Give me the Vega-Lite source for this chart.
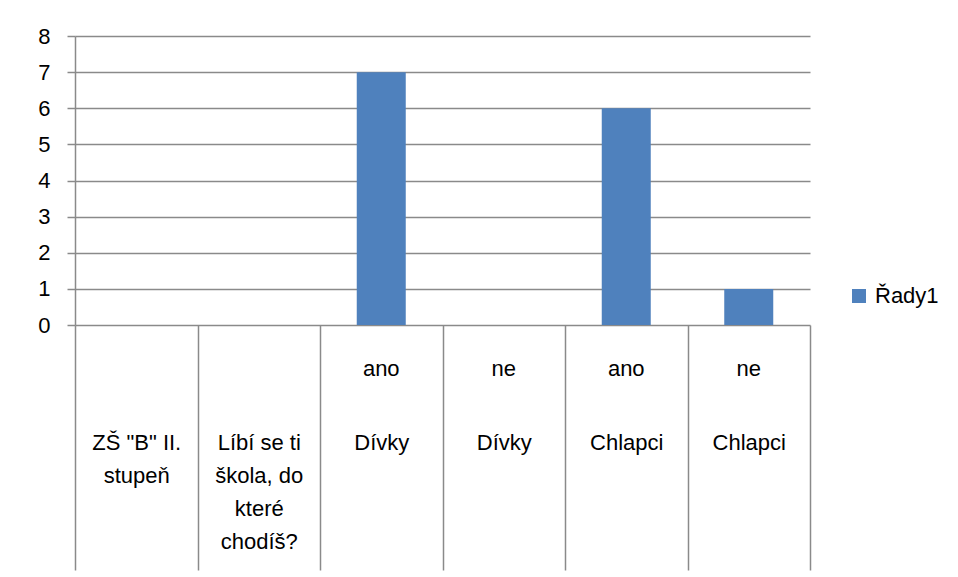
{
  "$schema": "https://vega.github.io/schema/vega-lite/v6.json",
  "width": 735,
  "height": 289,
  "autosize": {"type": "none"},
  "padding": {"left": 75, "top": 36, "right": 148, "bottom": 252},
  "background": "white",
  "config": {
    "view": {"stroke": null},
    "font": "Liberation Sans"
  },
  "data": {
    "values": [
      {"key": "|ZŠ \"B\" II.^stupeň", "series": "Řady1", "value": null},
      {"key": "|Líbí se ti^škola, do^které^chodíš?", "series": "Řady1", "value": null},
      {"key": "ano|Dívky", "series": "Řady1", "value": 7},
      {"key": "ne|Dívky", "series": "Řady1", "value": 0},
      {"key": "ano|Chlapci", "series": "Řady1", "value": 6},
      {"key": "ne|Chlapci", "series": "Řady1", "value": 1}
    ]
  },
  "resolve": {"axis": {"x": "independent"}},
  "layer": [
    {
      "mark": {"type": "text", "text": ""},
      "encoding": {
        "x": {
          "field": "key",
          "type": "nominal",
          "sort": null,
          "scale": {"paddingInner": 0, "paddingOuter": 0},
          "axis": {
            "orient": "bottom",
            "title": null,
            "domain": false,
            "ticks": false,
            "labelExpr": "split((datum.label||'')+'|','|')[0]",
            "labelBaseline": "middle",
            "labelAlign": "center",
            "labelPadding": 43,
            "labelFontSize": 22,
            "labelFont": "Liberation Sans",
            "labelColor": "#000000",
            "labelOverlap": false,
            "labelBound": false,
            "labelAngle": 0
          }
        }
      }
    },
    {
      "mark": {"type": "bar", "width": {"band": 0.4}},
      "encoding": {
        "x": {
          "field": "key",
          "type": "nominal",
          "sort": null,
          "axis": {
            "orient": "bottom",
            "title": null,
            "domain": false,
            "ticks": true,
            "tickBand": "extent",
            "tickSize": 245,
            "tickColor": "#8a8a8a",
            "tickWidth": 1.5,
            "labelExpr": "split(split((datum.label||'')+'|','|')[1],'^')",
            "labelBaseline": "top",
            "labelAlign": "center",
            "labelPadding": -138,
            "labelFontSize": 22,
            "labelFont": "Liberation Sans",
            "labelColor": "#000000",
            "labelLineHeight": 33,
            "labelOverlap": false,
            "labelBound": false,
            "labelAngle": 0,
            "labelLimit": 300
          }
        },
        "y": {
          "field": "value",
          "type": "quantitative",
          "scale": {"domain": [0, 8], "nice": false},
          "axis": {
            "title": null,
            "values": [0, 1, 2, 3, 4, 5, 6, 7, 8],
            "grid": true,
            "gridColor": "#8a8a8a",
            "gridWidth": 1.5,
            "domainColor": "#8a8a8a",
            "domainWidth": 1.5,
            "tickColor": "#8a8a8a",
            "tickWidth": 1.5,
            "tickSize": 8,
            "labelPadding": 17,
            "labelFontSize": 22,
            "labelFont": "Liberation Sans",
            "labelColor": "#000000"
          }
        },
        "color": {
          "field": "series",
          "type": "nominal",
          "scale": {"range": ["#4F81BD"]},
          "legend": {
            "title": null,
            "orient": "none",
            "legendX": 773,
            "legendY": 249,
            "symbolType": "square",
            "symbolSize": 196,
            "symbolStrokeWidth": 0,
            "labelFontSize": 22,
            "labelFont": "Liberation Sans",
            "labelColor": "#000000",
            "labelOffset": 5
          }
        }
      }
    }
  ]
}
